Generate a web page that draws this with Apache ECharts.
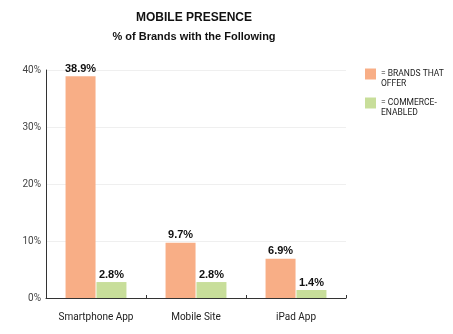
<!DOCTYPE html>
<html><head><meta charset="utf-8">
<script src="https://cdn.jsdelivr.net/npm/echarts@6/dist/echarts.min.js"></script>
<style>html,body{margin:0;padding:0;background:#fff}#c{width:453px;height:334px}</style>
</head><body><div id="c"></div>
<script>
const categories = ['Smartphone App', 'Mobile Site', 'iPad App'];
const brandsThatOffer = [38.9, 9.7, 6.9];
const commerceEnabled = [2.8, 2.8, 1.4];
const yTicks = [0, 10, 20, 30, 40];
const legendNames = ['BRANDS THAT OFFER', 'COMMERCE-ENABLED'];
const legendLabels = {'BRANDS THAT OFFER': '= BRANDS THAT\nOFFER', 'COMMERCE-ENABLED': '= COMMERCE-\nENABLED'};

const chart = echarts.init(document.getElementById('c'), null, {renderer: 'canvas'});
const narrow = "Roboto, 'Liberation Sans', sans-serif";
const bold = "'Liberation Sans', Arial, sans-serif";
const labelStyle = {show: true, position: 'top', distance: 2, formatter: p => p.value.toFixed(1) + '%',
  fontFamily: bold, fontWeight: 'bold', fontSize: 11, color: '#111'};
chart.setOption({
  animation: false,
  backgroundColor: '#fff',
  title: {
    text: 'MOBILE PRESENCE',
    subtext: '% of Brands with the Following',
    left: 194, top: 12, textAlign: 'center', itemGap: 7, padding: 0,
    textStyle: {fontFamily: bold, fontWeight: 'bold', fontSize: 12, color: '#111'},
    subtextStyle: {fontFamily: bold, fontWeight: 'bold', fontSize: 11, color: '#111'}
  },
  legend: {
    orient: 'vertical', left: 365, top: 59, padding: 0, itemWidth: 11, itemHeight: 11, itemGap: -1,
    icon: 'rect', itemStyle: {borderWidth: 0},
    data: legendNames,
    formatter: n => '\n' + legendLabels[n],
    textStyle: {fontFamily: narrow, fontSize: 8.5, color: '#222', lineHeight: 10}
  },
  grid: {left: 46, top: 70, width: 300, height: 228, containLabel: false},
  xAxis: {
    type: 'category', data: categories,
    axisLine: {lineStyle: {color: '#333', width: 1}},
    axisTick: {show: true, inside: true, length: 3, lineStyle: {color: '#333'}},
    axisLabel: {interval: 0, fontFamily: narrow, fontSize: 10, color: '#222', margin: 14}
  },
  yAxis: {
    type: 'value', min: 0, max: 40, interval: 10,
    axisLine: {show: true, lineStyle: {color: '#333', width: 1}},
    axisTick: {show: false},
    splitLine: {lineStyle: {color: '#efefef', width: 1}},
    axisLabel: {fontFamily: narrow, fontSize: 10, color: '#444', margin: 5,
      formatter: v => yTicks.includes(v) ? v + '%' : ''}
  },
  series: [
    {name: 'BRANDS THAT OFFER', type: 'bar', data: brandsThatOffer, barWidth: 30, barGap: '3%',
     itemStyle: {color: '#F8AE86'}, label: labelStyle},
    {name: 'COMMERCE-ENABLED', type: 'bar', data: commerceEnabled, barWidth: 30,
     itemStyle: {color: '#C8DE9A'}, label: labelStyle}
  ]
});
</script></body></html>
